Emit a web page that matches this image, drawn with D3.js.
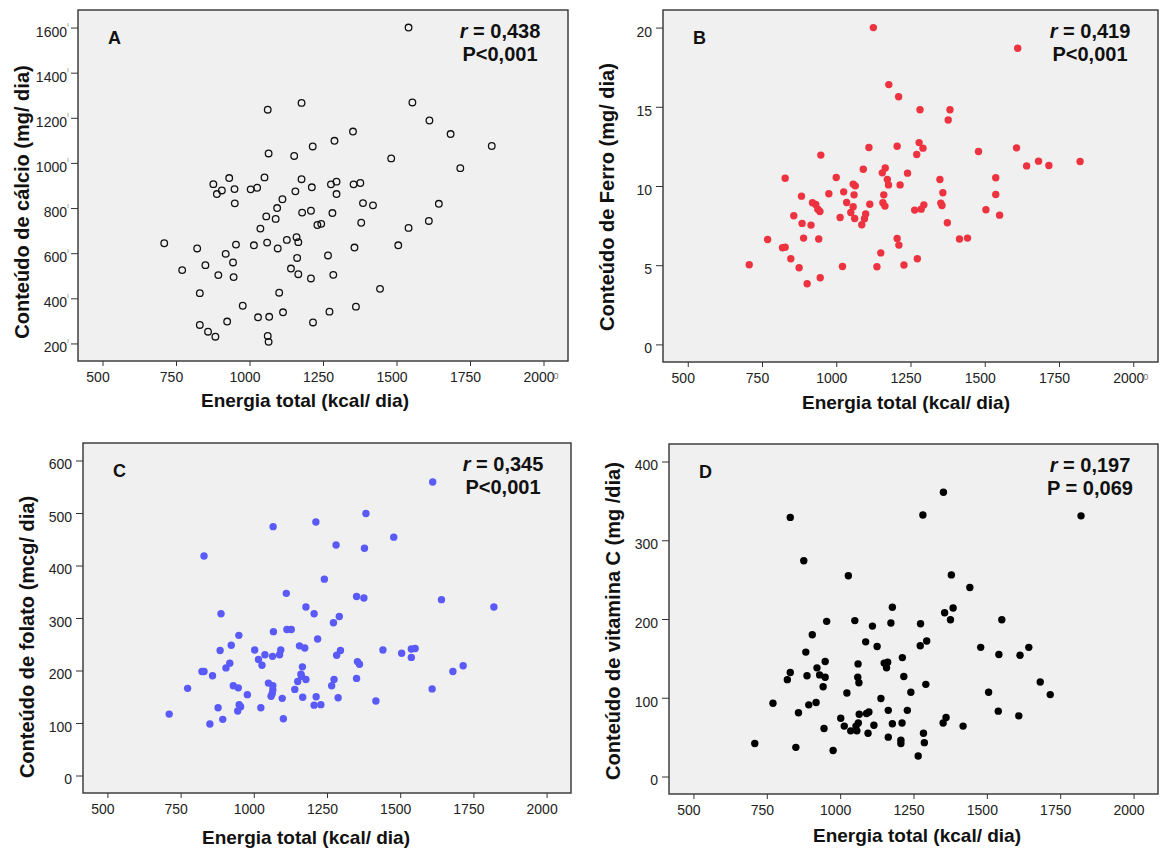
<!DOCTYPE html>
<html>
<head>
<meta charset="utf-8">
<script src="https://cdn.jsdelivr.net/npm/d3@7"></script>
<style>
  body { margin: 0; background: #fff; }
  svg { display: block; font-family: "Liberation Sans", Arial, sans-serif; }
</style>
</head>
<body>
<svg width="1162" height="854"></svg>
<script>
const svg = d3.select('svg')

// energia total (kcal/dia) x nutriente
const calcio = [
    [1541, 1600], [1177, 1266], [1062, 1236], [1554, 1268], [1612, 1188], [1352, 1139], [1684, 1128],
    [1289, 1098], [1215, 1073], [1824, 1075], [1065, 1042], [1152, 1031], [1482, 1020], [1717, 977],
    [931, 933], [1051, 936], [877, 906], [1177, 928], [1277, 905], [1296, 917], [1354, 905], [1377, 911],
    [906, 878], [949, 884], [889, 862], [1004, 883], [1026, 890], [1212, 892], [1156, 874], [1296, 862],
    [1112, 839], [950, 821], [1386, 822], [1420, 812], [1644, 819], [1094, 800], [1209, 788], [1179, 780],
    [1282, 778], [1057, 763], [1089, 752], [1610, 743], [1380, 735], [1231, 725], [1244, 730], [1541, 712],
    [1037, 709], [1160, 671], [1127, 659], [1166, 649], [710, 644], [954, 638], [1015, 635], [1060, 647],
    [1096, 621], [822, 621], [1357, 625], [1506, 635], [919, 597], [1267, 590], [1162, 579], [944, 559],
    [850, 547], [771, 525], [1141, 532], [1166, 507], [894, 503], [946, 494], [1209, 488], [1285, 504],
    [831, 423], [1101, 425], [1444, 442], [977, 367], [1362, 363], [1114, 338], [1272, 341], [1029, 316],
    [1067, 318], [924, 297], [1216, 293], [831, 282], [859, 252], [884, 230], [1062, 233], [1065, 207]
]

const ferro = [
    [1125, 20.0], [1611, 18.7], [1177, 16.4], [1210, 15.63], [1282, 14.81], [1383, 14.81], [1377, 14.17],
    [1279, 12.74], [1292, 12.39], [1110, 12.43], [1205, 12.51], [1607, 12.41], [1479, 12.18], [1271, 11.99],
    [948, 11.95], [1681, 11.57], [1821, 11.55], [1641, 11.27], [1716, 11.29], [1165, 11.14], [1091, 11.06],
    [1155, 10.83], [1240, 10.81], [828, 10.49], [1000, 10.54], [1172, 10.41], [1349, 10.41], [1537, 10.52],
    [1057, 10.12], [1064, 10.01], [1176, 10.07], [1215, 10.07], [1025, 9.63], [975, 9.51], [1060, 9.44],
    [1160, 9.44], [1359, 9.57], [1537, 9.46], [883, 9.36], [1035, 8.96], [920, 8.94], [931, 8.83],
    [1113, 8.85], [1157, 8.94], [1164, 8.73], [1352, 8.92], [1356, 8.77], [1295, 8.81], [1057, 8.69],
    [938, 8.54], [945, 8.39], [1049, 8.33], [1099, 8.24], [1264, 8.48], [1286, 8.54], [1504, 8.5],
    [1550, 8.16], [857, 8.12], [1013, 8.01], [1062, 7.95], [1095, 7.93], [885, 7.64], [915, 7.53],
    [1086, 7.55], [1374, 7.68], [769, 6.62], [890, 6.71], [941, 6.65], [1205, 6.69], [1415, 6.65],
    [1442, 6.71], [819, 6.1], [828, 6.14], [1211, 6.27], [1150, 5.78], [847, 5.41], [1273, 5.41],
    [707, 5.03], [875, 4.84], [1021, 4.92], [1137, 4.9], [1228, 5.01], [946, 4.21], [902, 3.83]
]

const folato = [
    [1611, 559], [1383, 499], [1212, 483], [1066, 474], [1478, 454], [1281, 439], [1378, 433], [830, 418],
    [1241, 374], [1111, 347], [1351, 341], [1376, 338], [1641, 335], [1178, 321], [1820, 321], [888, 308],
    [1206, 308], [1292, 303], [1272, 291], [1113, 278], [1128, 278], [1067, 274], [949, 267], [1218, 260],
    [923, 248], [1156, 247], [1174, 243], [1003, 239], [1092, 239], [1296, 238], [1441, 239], [1551, 242],
    [1538, 241], [885, 238], [1038, 230], [1088, 230], [1283, 229], [1064, 227], [1505, 233], [1538, 225],
    [1016, 221], [918, 214], [1028, 210], [1166, 207], [1354, 217], [1361, 212], [905, 205], [1680, 198],
    [1715, 209], [823, 198], [830, 198], [859, 190], [1161, 193], [1163, 189], [1274, 183], [1178, 183],
    [1351, 185], [1050, 176], [1150, 179], [1065, 171], [930, 171], [947, 167], [774, 166], [1266, 171],
    [1609, 165], [1065, 163], [1140, 164], [1063, 156], [978, 154], [1059, 151], [1097, 147], [1167, 149],
    [1213, 150], [1288, 148], [878, 129], [1024, 129], [950, 135], [955, 131], [945, 123], [1206, 134],
    [1229, 135], [1417, 142], [711, 117], [894, 107], [1101, 108], [850, 98]
]

const vitaminaC = [
    [1352, 361], [830, 329], [1282, 332], [1821, 331], [876, 274], [1028, 255], [1379, 256], [1442, 240],
    [1178, 215], [1385, 214], [1356, 208], [954, 197], [1050, 198], [1173, 195], [1274, 194], [1376, 199],
    [1551, 199], [1110, 191], [905, 180], [1087, 171], [1295, 172], [1126, 165], [1273, 166], [1479, 164],
    [1643, 164], [883, 158], [1541, 155], [1613, 154], [1212, 151], [949, 146], [1061, 143], [1150, 144],
    [1162, 145], [1158, 138], [921, 138], [830, 132], [887, 128], [930, 129], [949, 126], [1060, 126],
    [1217, 127], [820, 123], [1064, 119], [1682, 120], [942, 114], [1292, 117], [1023, 106], [1241, 107],
    [1506, 107], [1716, 104], [1139, 99], [771, 93], [918, 94], [893, 91], [858, 81], [1065, 79],
    [1098, 82], [1090, 80], [1164, 84], [1229, 84], [1539, 83], [1609, 77], [1361, 75], [1002, 74],
    [1351, 68], [1062, 68], [1178, 67], [1211, 68], [1014, 64], [1115, 65], [1419, 64], [1054, 64],
    [945, 61], [1057, 58], [1036, 58], [1095, 55], [1284, 55], [1164, 50], [1207, 46], [1207, 42],
    [1287, 43], [709, 42], [849, 37], [976, 33], [1266, 26]
]

const energiaTicks = [500, 750, 1000, 1250, 1500, 1750, 2000]
const calcioTicks = [200, 400, 600, 800, 1000, 1200, 1400, 1600]
const ferroTicks = [0, 5, 10, 15, 20]
const folatoTicks = [0, 100, 200, 300, 400, 500, 600]
const vitaminaCTicks = [0, 100, 200, 300, 400]

const letras = ['A', 'B', 'C', 'D']
const rValores = ['0,438', '0,419', '0,345', '0,197']
const pValores = ['P<0,001', 'P<0,001', 'P<0,001', 'P = 0,069']
const yTitulos = [
    'Conteúdo de cálcio (mg/ dia)',
    'Conteúdo de Ferro (mg/ dia)',
    'Conteúdo de folato (mcg/ dia)',
    'Conteúdo de vitamina C (mg /dia)'
]
const xTitulo = 'Energia total (kcal/ dia)'

// pad the domain like SPSS does (5% each side of the tick range)
const padded = ticks => {
    const lo = d3.min(ticks), hi = d3.max(ticks)
    const p = (hi - lo) / 18
    return [lo - p, hi + p]
}

const tickFont = sel => sel
    .attr('fill', '#222')
    .style('font-size', '14px')
    .style('font-family', '"Liberation Sans", Arial, sans-serif')

const scatterPanel = (selection, props) => {
    const {
        data, xTicks, yTicks, box, letter, rText, pText,
        yTitle, yTitlePos, xTitlePos, marker, yMark, xMark
    } = props

    const x = d3.scaleLinear().domain(padded(xTicks)).range([box.left, box.right])
    const y = d3.scaleLinear().domain(padded(yTicks)).range([box.bottom, box.top])

    selection.append('rect')
        .attr('x', box.left)
        .attr('y', box.top)
        .attr('width', box.right - box.left)
        .attr('height', box.bottom - box.top)
        .attr('fill', '#f0f0f0')

    const yAxis = selection.append('g')
        .attr('transform', `translate(${box.left},0)`)
        .call(d3.axisLeft(y).tickValues(yTicks).tickFormat(d3.format('d')).tickSize(7).tickPadding(4))
    yAxis.select('.domain').remove()
    yAxis.selectAll('line').attr('stroke', '#333')
    yAxis.selectAll('text')
        .attr('y', 4)
        .call(tickFont)
    // the little stray marks SPSS left next to the labels
    if (yMark) {
        yAxis.selectAll('.tick').append('text')
            .attr('x', -9)
            .attr('y', -1)
            .attr('font-size', 7)
            .attr('fill', '#888')
            .text('ı')
    }

    const xAxis = selection.append('g')
        .attr('transform', `translate(0,${box.bottom})`)
        .call(d3.axisBottom(x).tickValues(xTicks).tickFormat(d3.format('d')).tickSize(5).tickPadding(6))
    xAxis.select('.domain').remove()
    xAxis.selectAll('line').attr('stroke', '#333')
    xAxis.selectAll('text')
        .attr('x', -5)
        .call(tickFont)
    if (xMark) {
        xAxis.selectAll('.tick')
            .filter(d => d === d3.max(xTicks))
            .append('text')
                .attr('x', 12)
                .attr('y', 18)
                .attr('font-size', 9)
                .attr('fill', '#777')
                .text('0')
    }

    selection.append('rect')
        .attr('x', box.left)
        .attr('y', box.top)
        .attr('width', box.right - box.left)
        .attr('height', box.bottom - box.top)
        .attr('fill', 'none')
        .attr('stroke', '#333')
        .attr('stroke-width', 1.4)

    const dots = selection.append('g')
        .selectAll('circle')
        .data(data)
        .join('circle')
            .attr('cx', d => x(d[0]))
            .attr('cy', d => y(d[1]))
            .attr('r', marker.r)
    if (marker.open) {
        dots.attr('fill', 'none').attr('stroke', marker.color).attr('stroke-width', 1.3)
    } else {
        dots.attr('fill', marker.color)
    }

    selection.append('text')
        .attr('x', box.left + 30)
        .attr('y', box.top + 34)
        .attr('font-size', 18)
        .attr('font-weight', 'bold')
        .attr('fill', '#111')
        .text(letter)

    const stat = selection.append('text')
        .attr('text-anchor', 'middle')
        .attr('font-size', 20)
        .attr('font-weight', 'bold')
        .attr('fill', '#111')
    const rLine = stat.append('tspan')
        .attr('x', box.right - 68)
        .attr('y', box.top + 28)
    rLine.append('tspan').attr('font-style', 'italic').text('r')
    rLine.append('tspan').text(' = ' + rText)
    stat.append('tspan')
        .attr('x', box.right - 68)
        .attr('y', box.top + 51)
        .text(pText)

    selection.append('text')
        .attr('transform', `translate(${box.left - 56},${yTitlePos}) rotate(-90)`)
        .attr('text-anchor', 'middle')
        .attr('dy', '0.35em')
        .attr('font-size', 20)
        .attr('font-weight', 'bold')
        .attr('fill', '#111')
        .text(yTitle)

    selection.append('text')
        .attr('x', xTitlePos[0])
        .attr('y', xTitlePos[1])
        .attr('text-anchor', 'middle')
        .attr('font-size', 19)
        .attr('font-weight', 'bold')
        .attr('fill', '#111')
        .text(xTitulo)
}

const panels = [
    { data: calcio, yTicks: calcioTicks, box: { left: 78, right: 568, top: 10, bottom: 361 },
      yTitlePos: 202, xTitlePos: [305, 407], marker: { r: 3.3, color: '#111', open: true },
      yMark: true, xMark: true },
    { data: ferro, yTicks: ferroTicks, box: { left: 663, right: 1158, top: 10, bottom: 362 },
      yTitlePos: 197, xTitlePos: [906, 409], marker: { r: 3.7, color: '#ee3340' }, xMark: true },
    { data: folato, yTicks: folatoTicks, box: { left: 83, right: 571, top: 443, bottom: 793 },
      yTitlePos: 637, xTitlePos: [306, 844], marker: { r: 3.7, color: '#5a5af8' } },
    { data: vitaminaC, yTicks: vitaminaCTicks, box: { left: 669, right: 1158, top: 444, bottom: 794 },
      yTitlePos: 621, xTitlePos: [917, 842], marker: { r: 3.7, color: '#000' } }
]

panels.forEach((p, i) => {
    svg.append('g').call(scatterPanel, {
        ...p,
        xTicks: energiaTicks,
        letter: letras[i],
        rText: rValores[i],
        pText: pValores[i],
        yTitle: yTitulos[i]
    })
})
</script>
</body>
</html>
